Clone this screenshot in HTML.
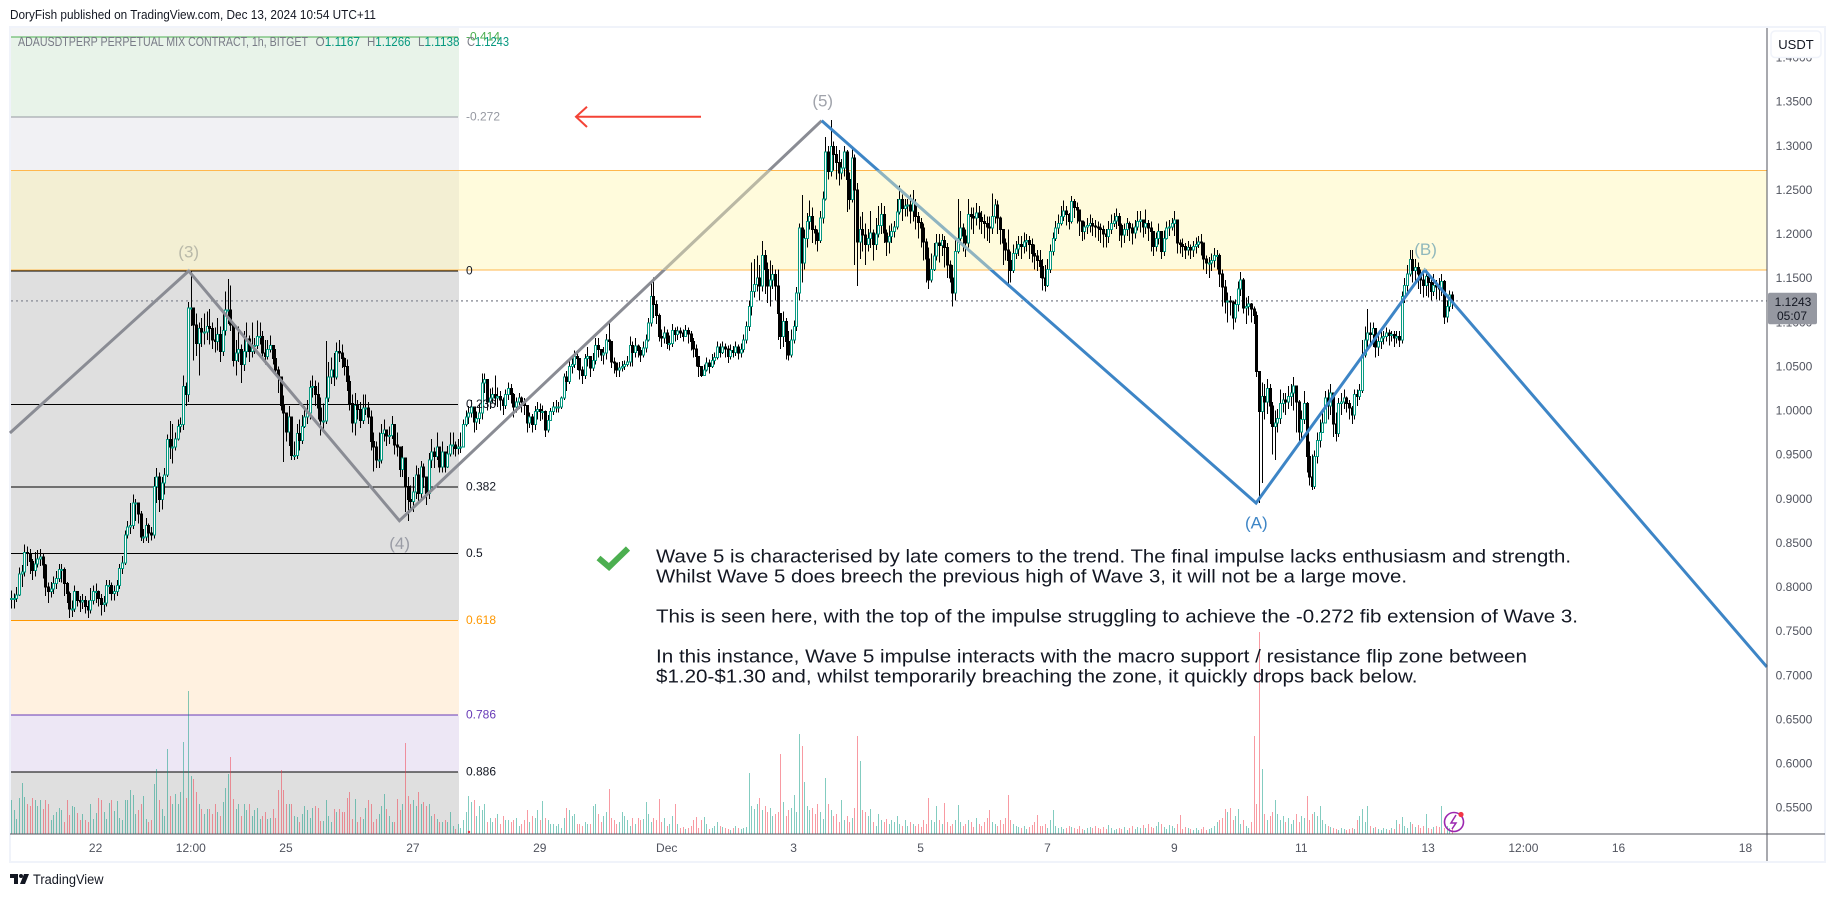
<!DOCTYPE html>
<html><head><meta charset="utf-8"><title>ADAUSDT chart</title>
<style>
html,body{margin:0;padding:0;background:#fff;width:1835px;height:897px;overflow:hidden}
svg{display:block}
text{font-family:"Liberation Sans",sans-serif}
</style></head>
<body>
<svg id="chart" xmlns="http://www.w3.org/2000/svg" width="1835" height="897" viewBox="0 0 1835 897">
<text x="10" y="19" font-size="13" fill="#131722" textLength="366" lengthAdjust="spacingAndGlyphs">DoryFish published on TradingView.com, Dec 13, 2024 10:54 UTC+11</text>
<rect x="10" y="27" width="1815" height="835" fill="#fff" stroke="#f0f3fa" stroke-width="2"/>
<g id="fib-layer"></g>
<g id="volume-layer" shape-rendering="crispEdges"></g>
<g id="zone-layer"></g>
<g id="candle-layer" shape-rendering="crispEdges"></g>
<g id="wave-layer"></g>
<g id="label-layer"></g>

<g font-size="13">
<text x="18" y="46" fill="#787b86" textLength="290" lengthAdjust="spacingAndGlyphs">ADAUSDTPERP PERPETUAL MIX CONTRACT, 1h, BITGET</text>
<text x="315.5" y="46" fill="#787b86" textLength="44.5" lengthAdjust="spacingAndGlyphs">O<tspan fill="#089981">1.1167</tspan></text>
<text x="367" y="46" fill="#787b86" textLength="43.5" lengthAdjust="spacingAndGlyphs">H<tspan fill="#089981">1.1266</tspan></text>
<text x="418" y="46" fill="#787b86" textLength="41.5" lengthAdjust="spacingAndGlyphs">L<tspan fill="#089981">1.1138</tspan></text>
<text x="467" y="46" fill="#787b86" textLength="42" lengthAdjust="spacingAndGlyphs">C<tspan fill="#089981">1.1243</tspan></text>
</g>

<g fill="none" stroke="#f44336" stroke-width="2">
<line x1="576" y1="116.7" x2="701" y2="116.7"/>
<polyline points="587,106.7 576,116.7 587,127"/>
</g>

<polyline points="598.5,558 609,567 628,548.5" fill="none" stroke="#4caf50" stroke-width="6"/>

<g font-size="18" fill="#131722">
<text x="656" y="562.5" textLength="915" lengthAdjust="spacingAndGlyphs">Wave 5 is characterised by late comers to the trend. The final impulse lacks enthusiasm and strength.</text>
<text x="656" y="582.5" textLength="751" lengthAdjust="spacingAndGlyphs">Whilst Wave 5 does breech the previous high of Wave 3, it will not be a large move.</text>
<text x="656" y="622.5" textLength="922" lengthAdjust="spacingAndGlyphs">This is seen here, with the top of the impulse struggling to achieve the -0.272 fib extension of Wave 3.</text>
<text x="656" y="662.5" textLength="871" lengthAdjust="spacingAndGlyphs">In this instance, Wave 5 impulse interacts with the macro support / resistance flip zone between</text>
<text x="656" y="682.5" textLength="761.5" lengthAdjust="spacingAndGlyphs">$1.20-$1.30 and, whilst temporarily breaching the zone, it quickly drops back below.</text>
</g>

<g>
<circle cx="1454" cy="822" r="9.5" fill="none" stroke="#9c27b0" stroke-width="1.6"/>
<path d="M1456 815 L1451 823 H1456 L1452 829" fill="none" stroke="#9c27b0" stroke-width="1.5"/>
<circle cx="1461" cy="814.5" r="2.6" fill="#f23645"/>
</g>
<circle cx="469" cy="832" r="1.2" fill="#f23645"/>

<line x1="10" y1="834" x2="1825" y2="834" stroke="#50535e" stroke-width="1" shape-rendering="crispEdges"/>
<line x1="1767" y1="28" x2="1767" y2="861" stroke="#50535e" stroke-width="1" shape-rendering="crispEdges"/>
<g id="axis-layer"></g>

<g>
<rect x="1771" y="31" width="50" height="26.5" rx="4" fill="#fff" stroke="#f0f3fa" stroke-width="1.5"/>
<text x="1796" y="49" font-size="13" fill="#131722" text-anchor="middle">USDT</text>
</g>

<g>
<rect x="1768" y="292.7" width="49" height="31.5" rx="2" fill="#9598a1"/>
<text id="last-price-text" x="1793" y="306" font-size="12" fill="#131722" text-anchor="middle">1.1243</text>
<text x="1792" y="320" font-size="12" fill="#131722" text-anchor="middle">05:07</text>
</g>

<g>
<path d="M10 874h8v10h-4v-6h-4z M24 874h5l-4 10h-5z" fill="#131722"/>
<circle cx="21" cy="876" r="2" fill="#131722"/>
<text x="33" y="884" font-size="13.5" fill="#131722" textLength="70.5" lengthAdjust="spacingAndGlyphs">TradingView</text>
</g>
</svg>

<script>
const closes = [
.787,.787,.791,.815,.817,.839,.838,.829,.819,.826,
.832,.834,.825,.800,.795,.798,.804,.810,.820,.820,
.804,.793,.775,.775,.795,.785,.783,.785,.778,.774,
.785,.795,.795,.787,.780,.782,.802,.802,.793,.795,
.802,.821,.827,.859,.868,.870,.895,.895,.883,.857,
.857,.870,.861,.859,.914,.925,.899,.918,.927,.967,
.959,.959,.968,.982,.984,1.027,1.018,1.116,1.116,1.097,
1.076,1.093,1.089,1.089,1.095,1.093,1.080,1.078,1.086,1.067,
1.091,1.114,1.114,1.097,1.057,1.065,1.069,1.052,1.067,1.081,
1.067,1.074,1.074,1.084,1.084,1.065,1.061,1.069,1.074,1.059,
1.046,1.038,1.006,.997,.976,.993,.949,.949,.974,.966,
.982,.993,.997,1.026,1.027,1.018,1.003,.988,.988,1.014,
1.038,1.046,1.038,1.067,1.065,1.059,1.050,1.033,1.008,.986,
1.006,1.001,.989,1.003,1.003,.993,.965,.959,.944,.944,
.974,.978,.971,.972,.984,.961,.959,.933,.946,.914,
.899,.897,.908,.927,.906,.936,.925,.906,.944,.953,
.948,.959,.936,.953,.936,.951,.961,.961,.957,.959,
.959,.984,.993,.997,1.004,.987,.991,.997,1.031,1.035,
1.010,1.014,1.018,1.014,1.016,1.012,1.006,1.018,1.025,1.018,
1.004,1.010,1.014,1.010,1.006,.986,.993,.984,.999,1.001,
.999,.999,.978,.989,.999,1.004,1.004,1.004,1.014,1.038,
1.033,1.050,1.052,1.061,1.059,1.046,1.040,1.059,1.061,1.048,
1.057,1.074,1.069,1.063,1.065,1.080,1.078,1.055,1.054,1.046,
1.048,1.050,1.052,1.055,1.074,1.066,1.073,1.068,1.063,1.071,
1.080,1.099,1.129,1.120,1.108,1.084,1.082,1.088,1.076,1.076,
1.091,1.086,1.090,1.088,1.084,1.091,1.087,1.078,1.070,1.061,
1.050,1.040,1.046,1.054,1.050,1.057,1.060,1.072,1.066,1.072,
1.070,1.061,1.068,1.066,1.072,1.065,1.069,1.080,1.095,1.118,
1.135,1.143,1.150,1.141,1.176,1.160,1.141,1.148,1.154,1.141,
1.110,1.084,1.101,1.078,1.063,1.080,1.095,1.133,1.207,1.167,
1.195,1.214,1.220,1.205,1.201,1.193,1.218,1.240,1.293,1.271,
1.299,1.290,1.281,1.269,1.275,1.293,1.262,1.239,1.286,1.250,
1.191,1.205,1.199,1.188,1.195,1.201,1.188,1.200,1.210,1.222,
1.201,1.191,1.197,1.203,1.208,1.225,1.239,1.229,1.232,1.233,
1.226,1.235,1.220,1.213,1.207,1.191,1.172,1.148,1.160,1.175,
1.190,1.187,1.193,1.185,1.165,1.150,1.133,1.180,1.195,1.207,
1.198,1.190,1.222,1.220,1.218,1.224,1.219,1.214,1.212,1.208,
1.207,1.220,1.233,1.218,1.205,1.190,1.182,1.170,1.159,1.178,
1.183,1.188,1.186,1.191,1.193,1.188,1.178,1.175,1.170,1.163,
1.150,1.142,1.160,1.180,1.195,1.207,1.212,1.220,1.226,1.222,
1.214,1.237,1.230,1.227,1.215,1.203,1.208,1.210,1.212,1.209,
1.208,1.207,1.205,1.200,1.197,1.205,1.212,1.215,1.220,1.210,
1.199,1.205,1.212,1.207,1.201,1.208,1.214,1.216,1.208,1.212,
1.207,1.203,1.186,1.195,1.203,1.180,1.195,1.207,1.208,1.212,
1.216,1.190,1.188,1.186,1.182,1.185,1.182,1.186,1.188,1.191,
1.190,1.172,1.167,1.167,1.170,1.176,1.176,1.155,1.140,1.123,
1.124,1.123,1.105,1.120,1.138,1.148,1.116,1.118,1.121,1.115,
1.108,1.044,.999,1.016,1.010,1.025,1.005,.982,.986,.991,
1.008,1.012,1.010,1.016,1.020,1.028,1.010,.976,.990,1.008,
.948,.925,.914,.948,.966,.975,.986,1.014,1.005,1.020,
.985,.974,1.008,1.010,1.014,1.008,1.003,.995,1.018,1.016,
1.023,1.063,1.080,1.088,1.086,1.093,1.072,1.078,1.082,1.084,
1.088,1.085,1.086,1.082,1.084,1.080,1.129,1.142,1.155,1.171,
1.159,1.162,1.155,1.148,1.142,1.152,1.145,1.135,1.142,1.140,
1.138,1.146,1.106,1.118,1.131,1.124];

const highs = [
.796,.793,.800,.822,.825,.848,.846,.843,.832,.840,
.842,.843,.838,.826,.805,.806,.812,.818,.826,.826,
.822,.806,.795,.785,.802,.794,.790,.792,.790,.785,
.799,.802,.804,.796,.792,.790,.808,.808,.805,.802,
.808,.826,.835,.864,.875,.895,.905,.900,.892,.886,
.866,.878,.872,.868,.925,.935,.930,.925,.935,.973,
.988,.985,.975,.990,.992,1.040,1.032,1.123,1.159,1.112,
1.110,1.100,1.105,1.110,1.112,1.115,1.100,1.094,1.105,1.095,
1.110,1.135,1.149,1.142,1.100,1.080,1.095,1.075,1.090,1.100,
1.085,1.100,1.082,1.102,1.100,1.090,1.080,1.080,1.085,1.074,
1.070,1.050,1.028,1.017,.998,1.005,.980,.965,.985,.990,
.995,1.005,1.012,1.034,1.040,1.034,1.032,1.015,1.008,1.079,
1.055,1.060,1.065,1.077,1.080,1.075,1.060,1.058,1.040,1.018,
1.020,1.012,1.010,1.018,1.018,1.010,1.000,.975,.965,.975,
.985,.990,.978,.982,.994,.985,.975,.950,.960,.940,
.925,.915,.925,.938,.935,.943,.940,.925,.952,.968,
.958,.975,.950,.965,.950,.960,.975,.975,.965,.968,
.975,.990,1.000,1.005,1.012,1.002,.999,1.008,1.042,1.042,
1.036,1.025,1.026,1.040,1.026,1.022,1.015,1.024,1.032,1.030,
1.020,1.015,1.020,1.016,1.014,1.000,.998,.996,1.005,1.010,
1.008,1.006,1.000,.995,1.003,1.010,1.012,1.010,1.016,1.042,
1.045,1.056,1.060,1.068,1.068,1.058,1.050,1.064,1.072,1.060,
1.065,1.082,1.082,1.070,1.072,1.087,1.101,1.066,1.060,1.054,
1.055,1.056,1.057,1.062,1.084,1.078,1.082,1.075,1.072,1.078,
1.086,1.105,1.145,1.151,1.125,1.110,1.092,1.095,1.092,1.085,
1.098,1.094,1.095,1.094,1.092,1.097,1.094,1.090,1.082,1.075,
1.062,1.050,1.052,1.060,1.058,1.064,1.066,1.078,1.076,1.078,
1.076,1.074,1.075,1.073,1.078,1.075,1.076,1.086,1.101,1.125,
1.168,1.172,1.176,1.165,1.192,1.182,1.168,1.170,1.165,1.160,
1.160,1.110,1.112,1.105,1.090,1.092,1.102,1.140,1.212,1.244,
1.205,1.224,1.238,1.230,1.210,1.205,1.226,1.248,1.310,1.300,
1.329,1.305,1.300,1.295,1.285,1.300,1.295,1.270,1.296,1.290,
1.258,1.220,1.225,1.212,1.206,1.226,1.205,1.218,1.232,1.235,
1.232,1.205,1.210,1.212,1.215,1.240,1.255,1.245,1.240,1.240,
1.245,1.250,1.240,1.225,1.218,1.212,1.195,1.185,1.178,1.190,
1.200,1.200,1.200,1.198,1.190,1.170,1.165,1.195,1.240,1.226,
1.212,1.205,1.240,1.230,1.230,1.235,1.232,1.226,1.222,1.220,
1.220,1.246,1.240,1.238,1.220,1.206,1.195,1.205,1.180,1.188,
1.192,1.198,1.198,1.202,1.200,1.198,1.195,1.188,1.182,1.182,
1.172,1.165,1.172,1.188,1.202,1.215,1.222,1.232,1.238,1.232,
1.224,1.243,1.240,1.236,1.228,1.214,1.214,1.218,1.222,1.218,
1.216,1.214,1.212,1.210,1.206,1.215,1.222,1.224,1.229,1.224,
1.212,1.212,1.218,1.214,1.212,1.216,1.226,1.226,1.216,1.228,
1.216,1.214,1.200,1.202,1.212,1.202,1.204,1.214,1.216,1.218,
1.226,1.200,1.194,1.195,1.190,1.192,1.188,1.192,1.196,1.198,
1.200,1.185,1.176,1.174,1.178,1.184,1.182,1.178,1.160,1.148,
1.134,1.130,1.125,1.126,1.146,1.157,1.150,1.128,1.130,1.122,
1.118,1.112,1.044,1.032,1.030,1.036,1.030,1.010,1.000,1.002,
1.024,1.020,1.020,1.028,1.030,1.038,1.028,1.012,1.000,1.022,
1.010,.965,.950,.955,.975,.990,1.002,1.022,1.024,1.030,
1.020,.998,1.014,1.020,1.024,1.016,1.012,1.005,1.024,1.024,
1.030,1.080,1.095,1.115,1.100,1.100,1.092,1.085,1.090,1.090,
1.094,1.092,1.090,1.090,1.090,1.090,1.135,1.150,1.165,1.182,
1.182,1.172,1.168,1.160,1.158,1.160,1.155,1.150,1.155,1.148,
1.150,1.155,1.148,1.125,1.136,1.135];

const lows = [
.776,.776,.783,.790,.800,.812,.824,.815,.808,.812,
.822,.824,.810,.790,.782,.788,.792,.798,.806,.805,
.790,.782,.765,.766,.772,.778,.772,.775,.770,.765,
.770,.780,.782,.778,.768,.772,.778,.792,.785,.785,
.790,.798,.815,.825,.855,.860,.866,.875,.872,.852,
.850,.852,.850,.853,.855,.895,.885,.888,.905,.925,
.945,.940,.955,.966,.975,.978,1.005,1.010,1.096,1.057,
1.062,1.040,1.072,1.075,1.080,1.075,1.070,1.066,1.068,1.055,
1.062,1.085,1.098,1.090,1.050,1.040,1.055,1.031,1.045,1.060,
1.055,1.060,1.064,1.070,1.075,1.060,1.052,1.058,1.066,1.052,
1.040,1.020,1.000,.942,.965,.960,.944,.944,.945,.955,
.962,.980,.985,.990,1.015,1.005,.990,.972,.978,.985,
1.010,1.030,1.028,1.035,1.055,1.048,1.040,1.022,1.000,.975,
.972,.990,.980,.985,.995,.985,.955,.931,.935,.935,
.940,.965,.960,.962,.968,.950,.948,.925,.925,.885,
.875,.885,.885,.900,.895,.900,.912,.893,.900,.935,
.935,.944,.930,.930,.930,.935,.948,.950,.948,.950,
.952,.960,.982,.985,.992,.975,.978,.985,.990,1.020,
1.000,1.002,1.008,1.006,1.004,1.000,.995,1.002,1.012,1.008,
.992,.998,1.002,.998,.995,.975,.980,.975,.978,.990,
.988,.990,.970,.975,.988,.995,.998,.998,1.002,1.012,
1.022,1.030,1.042,1.048,1.046,1.035,1.030,1.036,1.050,1.038,
1.045,1.052,1.060,1.056,1.052,1.058,1.068,1.048,1.042,1.038,
1.038,1.044,1.046,1.050,1.050,1.050,1.060,1.060,1.055,1.060,
1.066,1.078,1.095,1.105,1.098,1.078,1.072,1.076,1.070,1.068,
1.072,1.078,1.080,1.082,1.078,1.084,1.076,1.068,1.060,1.050,
1.038,1.038,1.040,1.044,1.042,1.048,1.052,1.058,1.060,1.064,
1.060,1.054,1.058,1.060,1.062,1.058,1.060,1.066,1.076,1.090,
1.108,1.128,1.135,1.125,1.135,1.132,1.122,1.118,1.138,1.125,
1.080,1.070,1.072,1.058,1.057,1.060,1.076,1.090,1.125,1.145,
1.160,1.185,1.205,1.190,1.188,1.180,1.190,1.212,1.238,1.262,
1.265,1.272,1.262,1.255,1.262,1.265,1.225,1.228,1.236,1.165,
1.141,1.172,1.180,1.165,1.180,1.184,1.170,1.182,1.196,1.200,
1.190,1.175,1.178,1.190,1.196,1.205,1.222,1.215,1.220,1.220,
1.212,1.214,1.205,1.195,1.185,1.170,1.145,1.138,1.145,1.158,
1.170,1.168,1.175,1.162,1.150,1.145,1.118,1.125,1.178,1.192,
1.180,1.174,1.185,1.205,1.200,1.210,1.205,1.200,1.195,1.192,
1.190,1.200,1.212,1.200,1.188,1.165,1.170,1.140,1.145,1.156,
1.172,1.175,1.172,1.178,1.180,1.172,1.168,1.160,1.158,1.150,
1.136,1.135,1.140,1.156,1.176,1.192,1.200,1.210,1.215,1.210,
1.205,1.212,1.218,1.212,1.198,1.192,1.194,1.200,1.202,1.198,
1.196,1.192,1.190,1.185,1.185,1.190,1.200,1.208,1.206,1.192,
1.185,1.190,1.198,1.192,1.188,1.195,1.204,1.202,1.196,1.200,
1.192,1.180,1.175,1.180,1.188,1.172,1.175,1.194,1.198,1.204,
1.198,1.178,1.178,1.174,1.172,1.176,1.172,1.174,1.178,1.184,
1.176,1.160,1.155,1.150,1.158,1.162,1.160,1.140,1.118,1.110,
1.100,1.108,1.092,1.100,1.112,1.130,1.110,1.098,1.108,1.100,
1.098,1.038,.895,.918,.990,.996,.985,.950,.944,.975,
.985,.998,.995,1.002,1.005,1.000,.975,.965,.968,.985,
.930,.915,.910,.911,.940,.958,.975,.990,.990,.995,
.970,.965,.970,.995,1.002,.998,.990,.985,.990,1.005,
1.012,1.020,1.060,1.070,1.074,1.072,1.060,1.062,1.070,1.075,
1.078,1.074,1.078,1.072,1.076,1.072,1.076,1.122,1.135,1.152,
1.145,1.145,1.138,1.132,1.128,1.130,1.128,1.125,1.130,1.126,
1.125,1.130,1.098,1.100,1.112,1.115];

const volumes = [
34,24,15,36,51,37,30,28,36,34,
28,34,25,34,30,14,19,22,26,24,
12,34,19,28,27,21,14,20,14,12,
30,15,21,36,34,22,15,31,34,23,
33,16,14,34,34,44,39,20,24,30,
38,15,12,14,50,65,34,25,18,85,
38,30,40,30,42,92,36,143,58,55,
42,30,25,20,25,25,20,30,22,18,
32,46,60,77,35,25,30,18,30,24,
30,18,24,26,15,18,22,15,16,25,
16,44,64,44,30,30,30,18,17,12,
20,28,24,16,26,28,26,13,13,34,
18,12,25,22,25,22,22,36,42,15,
35,12,17,15,26,34,30,12,15,20,
28,40,25,18,12,12,35,24,30,91,
38,30,34,28,42,30,32,28,30,18,
20,15,12,12,14,12,22,8,5,10,
6,14,22,38,32,34,18,28,24,30,
12,16,12,16,20,10,18,14,14,12,
14,16,8,10,14,24,12,18,16,24,
14,33,16,14,10,10,8,10,6,16,
26,24,18,20,10,10,8,12,10,10,
28,30,20,12,18,22,45,16,14,10,
12,22,18,14,8,16,10,16,14,15,
32,20,12,16,14,35,12,16,8,10,
18,30,10,6,7,5,6,8,14,17,
6,14,17,10,5,6,8,12,8,7,
6,5,4,6,8,6,5,6,7,61,
28,25,30,36,24,28,22,26,18,20,
22,80,32,18,24,26,39,22,100,88,
52,28,24,26,20,30,22,15,56,30,
24,18,20,12,34,14,18,12,16,26,
98,73,24,22,18,25,12,8,20,14,
12,15,10,14,12,18,10,8,14,8,
12,10,8,10,7,14,10,36,14,12,
28,14,10,31,12,8,10,14,29,12,
8,10,14,12,7,16,10,8,12,16,
24,12,10,8,14,10,16,39,14,10,
8,7,6,8,5,7,9,12,19,8,
8,10,6,14,24,8,6,7,5,6,
8,7,6,5,8,5,4,6,7,6,
8,6,5,7,5,9,6,4,5,6,
5,7,4,6,8,5,7,6,9,6,
10,7,6,8,12,10,7,5,9,8,
6,10,19,5,7,6,5,4,6,4,
5,7,4,5,6,8,12,14,16,25,
22,26,14,18,25,10,14,8,6,12,
98,30,202,65,20,14,18,22,34,20,
14,18,12,16,10,14,20,12,18,16,
38,14,20,22,18,28,14,10,8,7,
6,5,4,6,5,4,5,6,5,14,
18,25,12,28,8,6,7,5,4,6,
5,4,6,5,14,10,17,8,6,12,
10,7,9,6,8,20,6,5,7,8,
7,28,6,8,6,5];

const priceTicks = [1.40,1.35,1.30,1.25,1.20,1.15,1.10,1.05,1.00,0.95,0.90,0.85,0.80,0.75,0.70,0.65,0.60,0.55];
const timeTickHours = [32,68,104,152,200,248,296,344,392,440,488,536,572,608,656];
const timeTickLabels = ['22','12:00','25','27','29','Dec','3','5','7','9','11','13','12:00','16','18'];
const lastPrice = 1.1243;
const fibRatios = [-0.414,-0.272,0,0.236,0.382,0.5,0.618,0.786,0.886];
const fibZeroPrice = 1.1582;
const fibOnePrice = 0.5177;
const fibLineColors = ['#4caf50','#9598a1','#000','#000','#000','#000','#ff9800','#673ab7','#000'];
const fibTextColors = ['#4caf50','#9598a1','#131722','#131722','#131722','#131722','#ff9800','#673ab7','#131722'];
const fibBandColors = ['#e8f3e9','#f1f1f4','#dfdfdf','#dfdfdf','#dfdfdf','#dfdfdf','#fff1e0','#ede7f5','#dfdfdf'];
const zoneTop = 1.2723;
const zoneBottom = 1.1593;
const grayWaveBars = [-0.4,67.2,146.9,306.6];
const grayWavePrices = [0.9746,1.1582,0.8752,1.3285];
const blueWaveBars = [306.6,470.9,534.7,664.1];
const blueWavePrices = [1.3285,0.8953,1.1593,0.7095];
const waveLabels = ['(3)','(4)','(5)','(A)','(B)'];
const waveLabelBars = [67.2,147,307,471,535];
const waveLabelPrices = [1.1805,0.8500,1.3515,0.8730,1.1833];

const NS = 'http://www.w3.org/2000/svg';
const xScale = i => 11 + 2.644 * i;
const yScale = p => 101.7 + (1.35 - p) * 882.5;
const yVol = v => 834 - v;
const fibPrice = r => fibZeroPrice + (fibOnePrice - fibZeroPrice) * r;
function mk(parent, tag, attrs, txt) {
  const el = document.createElementNS(NS, tag);
  for (const k in attrs) el.setAttribute(k, attrs[k]);
  if (txt !== undefined) el.textContent = txt;
  parent.appendChild(el);
  return el;
}
const fibLayer = document.getElementById('fib-layer');
const volumeLayer = document.getElementById('volume-layer');
const zoneLayer = document.getElementById('zone-layer');
const candleLayer = document.getElementById('candle-layer');
const waveLayer = document.getElementById('wave-layer');
const labelLayer = document.getElementById('label-layer');
const axisLayer = document.getElementById('axis-layer');
const fibL = 11, fibR = 459;

// fib bands
const topCap = mk(fibLayer, 'rect', {x: fibL, y: 28, width: fibR - fibL, height: yScale(fibPrice(fibRatios[0])) - 28, fill: '#f4f5f6'});


fibRatios.forEach((r, i) => {
  const y0 = yScale(fibPrice(r));
  const y1 = i + 1 < fibRatios.length ? yScale(fibPrice(fibRatios[i + 1])) : 834;
  const band = mk(fibLayer, 'rect', {x: fibL, y: y0, width: fibR - fibL, height: y1 - y0, fill: fibBandColors[i]});
  
  
});

// volume
volumes.forEach((v, i) => {
  const up = closes[i] >= (i ? closes[i - 1] : closes[i]);
  const bar = mk(volumeLayer, 'rect', {x: Math.round(xScale(i)), y: yVol(v), width: 1, height: 834 - yVol(v), fill: up ? 'rgba(8,153,129,.5)' : 'rgba(242,54,69,.5)'});
  
  
});

// fib lines + labels
fibRatios.forEach((r, i) => {
  const y = yScale(fibPrice(r));
  const line = mk(fibLayer, 'line', {x1: fibL, x2: 458, y1: y, y2: y, stroke: fibLineColors[i], 'stroke-width': 1, 'shape-rendering': 'crispEdges'});
  
  
  const t = mk(labelLayer, 'text', {x: 466, y: y + 3.5, 'font-size': 12, fill: fibTextColors[i]}, String(r));
  
  
});

// yellow zone
const zone = mk(zoneLayer, 'rect', {x: fibL, y: yScale(zoneTop), width: 1767 - fibL, height: yScale(zoneBottom) - yScale(zoneTop), fill: 'rgba(253,235,70,.19)'});


[zoneTop, zoneBottom].forEach(p => {
  const zl = mk(zoneLayer, 'line', {x1: fibL, x2: 1767, y1: yScale(p), y2: yScale(p), stroke: '#ffb74d', 'stroke-width': 1, 'shape-rendering': 'crispEdges'});
  
  
});
const lastLine = mk(zoneLayer, 'line', {x1: fibL, x2: 1767, y1: yScale(lastPrice), y2: yScale(lastPrice), stroke: '#9598a1', 'stroke-width': 1.4, 'stroke-dasharray': '2 3'});



// candles
closes.forEach((c, i) => {
  const o = i ? closes[i - 1] : c;
  const up = c >= o;
  const x = Math.round(xScale(i));
  const hi = Math.max(highs[i], o, c), lo = Math.min(lows[i], o, c);
  const wick = mk(candleLayer, 'line', {x1: x + .5, x2: x + .5, y1: yScale(hi), y2: yScale(lo), stroke: '#000', 'stroke-width': 1});
  
  
  const top = yScale(Math.max(o, c)), bot = yScale(Math.min(o, c));
  const body = mk(candleLayer, 'rect', {x: x - .5, y: top, width: 2, height: Math.max(bot - top, 1), fill: up ? '#fff' : '#000', stroke: up ? '#089981' : '#000', 'stroke-width': 1});
  
  
});

// waves
const defs = mk(waveLayer, 'defs', {});
const clip = mk(defs, 'clipPath', {id: 'zone-clip'});
mk(clip, 'rect', {x: 0, y: yScale(zoneTop), width: 1767, height: yScale(zoneBottom) - yScale(zoneTop)});
const ptsOf = (bars, prices) => bars.map((b, i) => xScale(b) + ',' + yScale(prices[i])).join(' ');
const grayPts = ptsOf(grayWaveBars, grayWavePrices);
const bluePts = ptsOf(blueWaveBars, blueWavePrices);
const grayLine = mk(waveLayer, 'polyline', {points: grayPts, fill: 'none', stroke: '#8a8c94', 'stroke-width': 3});


const blueLine = mk(waveLayer, 'polyline', {points: bluePts, fill: 'none', stroke: '#3d85c6', 'stroke-width': 3});


const grayTint = mk(waveLayer, 'polyline', {points: grayPts, fill: 'none', stroke: '#f5eeb8', 'stroke-width': 3, opacity: .45, 'clip-path': 'url(#zone-clip)'});


const blueTint = mk(waveLayer, 'polyline', {points: bluePts, fill: 'none', stroke: '#f5eeb8', 'stroke-width': 3, opacity: .45, 'clip-path': 'url(#zone-clip)'});



const waveLabelColors = ['#b9b9a9','#9a9ca5','#a0a3ab','#3d85c6','#90b8bc'];
waveLabels.forEach((s, i) => {
  const t = mk(labelLayer, 'text', {x: xScale(waveLabelBars[i]), y: yScale(waveLabelPrices[i]) + 6, 'font-size': 17, fill: waveLabelColors[i], 'text-anchor': 'middle'}, s);
  
  
});

// axes
priceTicks.forEach(p => {
  const t = mk(axisLayer, 'text', {x: 1794, y: yScale(p) + 4, 'font-size': 12, fill: '#50535e', 'text-anchor': 'middle'}, p.toFixed(4));
  
  
});
timeTickHours.forEach((h, i) => {
  const t = mk(axisLayer, 'text', {x: xScale(h), y: 852, 'font-size': 12, fill: '#50535e', 'text-anchor': 'middle'}, timeTickLabels[i]);
  
  
});
</script>
</body></html>
